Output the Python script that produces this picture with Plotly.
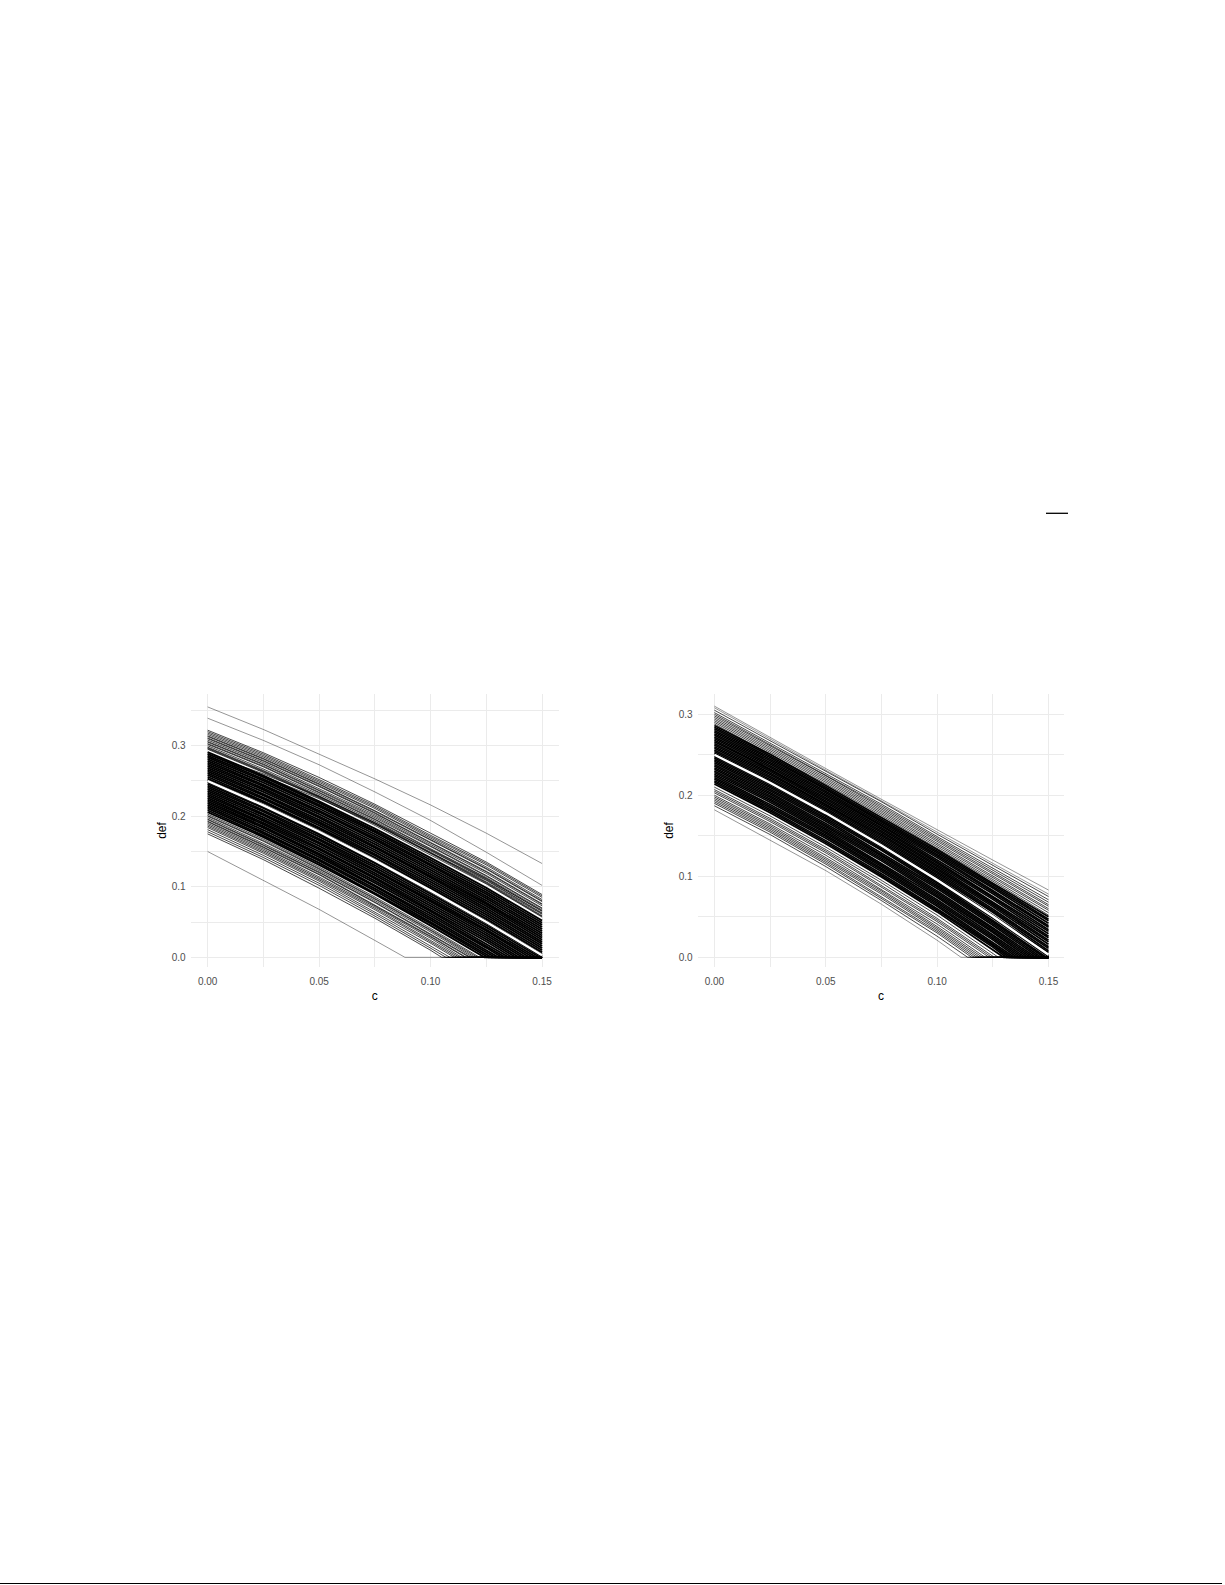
import plotly.graph_objects as go

c_knots = [0.0, 0.025, 0.05, 0.075, 0.10, 0.125, 0.15]
x_ticks = [0.0, 0.05, 0.10, 0.15]
x_labels = ["0.00", "0.05", "0.10", "0.15"]
x_minor = [0.025, 0.075, 0.125]
y_ticks = [0.0, 0.1, 0.2, 0.3]
y_labels = ["0.0", "0.1", "0.2", "0.3"]
left_y_minor = [0.05, 0.15, 0.25, 0.35]
right_y_minor = [0.05, 0.15, 0.25]

# left panel: isolated curves. short rows reach def = 0 at the c in *_zero
left_outer = [
    [.355, .323, .288, .253, .216, .176, .133],
    [.339, .3075, .273, .2345, .194, .149, .102],
    [.150, .1095, .068, .024],
]
left_outer_zero = [None, None, .0885]

left_upper = [
    [.322, .290, .255, .217, .176, .135, .089],
    [.320, .288, .252, .215, .173, .133, .087],
    [.318, .286, .250, .213, .171, .131, .085],
    [.316, .284, .248, .211, .169, .128, .082],
    [.314, .282, .246, .208, .167, .126, .080],
    [.313, .281, .245, .207, .166, .125, .079],
    [.311, .279, .243, .205, .163, .122, .076],
    [.310, .278, .242, .204, .162, .121, .075],
    [.308, .276, .239, .202, .160, .119, .073],
    [.306, .274, .237, .200, .158, .116, .070],
    [.305, .273, .236, .198, .157, .115, .069],
    [.303, .271, .234, .196, .154, .113, .067],
    [.302, .270, .233, .195, .153, .112, .065],
    [.300, .267, .231, .193, .151, .110, .063],
    [.298, .265, .229, .191, .149, .107, .061],
    [.297, .264, .228, .190, .148, .106, .059],
    [.296, .263, .227, .189, .147, .105, .058],
    [.295, .262, .226, .187, .145, .104, .057],
    [.288, .260, .228, .191, .152, .111, .066],
    [.284, .257, .225, .189, .148, .109, .062],
]

left_core = [
    [.291, .2575, .221, .1825, .141, .0985, .052],
    [.2885, .2555, .219, .1795, .138, .0955, .049],
    [.286, .2525, .216, .1775, .135, .0925, .046],
    [.2835, .2505, .214, .1745, .132, .0895, .043],
    [.281, .2475, .211, .1715, .130, .0865, .040],
    [.2785, .2445, .208, .1685, .127, .0835, .037],
    [.276, .2425, .206, .1665, .124, .0805, .034],
    [.2735, .2395, .203, .1635, .121, .0775, .031],
    [.271, .2375, .200, .1605, .118, .0755, .028],
    [.2685, .2345, .198, .1575, .115, .0725, .025],
    [.266, .2315, .195, .1555, .113, .0695, .022],
    [.2635, .2295, .192, .1525, .110, .0665, .019],
    [.261, .2265, .190, .1495, .107, .0635, .016],
    [.2585, .2245, .187, .1465, .104, .0605, .013],
    [.256, .2215, .184, .1445, .101, .0575, .010],
    [.2535, .2195, .182, .1415, .098, .0545, .007],
    [.251, .2165, .179, .1385, .096, .0515, .004],
    [.2485, .2135, .176, .1355, .093, .0485, .001],
    [.246, .2115, .174, .1335, .090, .0455],
    [.2435, .2085, .171, .1305, .087, .0425],
    [.241, .2065, .168, .1275, .084, .0395],
    [.2385, .2035, .166, .1245, .081, .0375],
    [.236, .2015, .163, .1225, .079, .0345],
    [.2335, .1985, .161, .1195, .076, .0315],
    [.231, .1955, .158, .1165, .073, .0285],
    [.2285, .1935, .155, .1135, .070, .0255],
    [.226, .1905, .153, .1115, .067, .0225],
    [.2235, .1885, .150, .1085, .065, .0195],
    [.221, .1855, .147, .1055, .062, .0165],
    [.2185, .1835, .145, .1025, .059, .0135],
    [.216, .1805, .142, .1005, .056, .0105],
    [.2135, .1775, .139, .0975, .053, .0075],
    [.211, .1755, .137, .0945, .050, .0045],
    [.2085, .1725, .134, .0915, .048, .0015],
    [.206, .1705, .131, .0895, .045],
]
left_core_zero = [None] * 18 + [
    .149, .1475, .146, .1444, .1428, .1413, .1397, .1382, .1366,
    .1351, .1335, .132, .1304, .1289, .1273, .1258, .1242,
]

left_lower = [
    [.203, .1675, .128, .0855, .041],
    [.201, .1655, .126, .0835, .039],
    [.200, .1645, .125, .0825, .038],
    [.198, .1615, .123, .0805, .036],
    [.196, .1595, .121, .0785, .033],
    [.195, .1585, .120, .0775, .032],
    [.193, .1565, .118, .0745, .030],
    [.192, .1555, .117, .0735, .029],
    [.190, .1535, .114, .0715, .027],
    [.188, .1515, .112, .0695, .024],
    [.186, .1495, .110, .0675, .022],
    [.184, .1475, .108, .0645, .020],
    [.181, .1445, .105, .0615, .016],
    [.178, .1415, .102, .0585, .013],
    [.175, .1385, .098, .0555, .010],
]
left_lower_zero = [.122, .1211, .120, .119, .118, .1174, .116, .1155, .114,
                   .113, .1118, .1106, .1087, .1069, .105]

left_mean = [.25, .2155, .178, .1375, .0945, .050, .003]

# right panel
right_outer = [
    [.310, .271, .233, .195, .157, .120, .083],
    [.308, .269, .231, .193, .154, .116, .078],
    [.182, .1445, .107, .0655, .021],
]
right_outer_zero = [None, None, .1107]

right_upper = [
    [.305, .267, .229, .192, .152, .114, .075],
    [.302, .264, .226, .189, .149, .110, .071],
    [.300, .262, .225, .187, .147, .108, .068],
    [.298, .261, .224, .185, .145, .105, .065],
    [.296, .259, .222, .183, .143, .103, .063],
    [.294, .257, .220, .181, .141, .101, .060],
    [.292, .255, .218, .179, .139, .099, .058],
    [.290, .253, .216, .177, .137, .096, .055],
    [.288, .251, .214, .175, .135, .094, .052],
]

right_core = [
    [.286, .2505, .212, .173, .133, .0915, .050],
    [.284, .2485, .210, .171, .131, .0895, .047],
    [.282, .2465, .208, .169, .129, .0875, .045],
    [.280, .2445, .207, .167, .127, .0855, .042],
    [.278, .2425, .205, .165, .125, .0825, .039],
    [.276, .2405, .203, .163, .123, .0805, .037],
    [.274, .2385, .201, .162, .120, .0785, .034],
    [.272, .2365, .199, .160, .118, .0755, .032],
    [.270, .2345, .197, .158, .116, .0735, .029],
    [.268, .2325, .195, .156, .114, .0715, .026],
    [.266, .2315, .193, .154, .112, .0685, .024],
    [.264, .2295, .191, .152, .110, .0665, .021],
    [.262, .2275, .189, .150, .108, .0645, .019],
    [.260, .2255, .188, .148, .106, .0625, .016],
    [.258, .2235, .186, .146, .104, .0595, .013],
    [.256, .2215, .184, .144, .102, .0575, .011],
    [.254, .2195, .182, .142, .100, .0555, .008],
    [.252, .2175, .180, .140, .098, .0525, .006],
    [.250, .2155, .178, .138, .0955, .0505, .003],
    [.248, .2135, .176, .136, .093, .0485, .001],
    [.246, .2115, .174, .134, .091, .0455],
    [.244, .2095, .172, .132, .089, .0435],
    [.242, .2075, .170, .129, .087, .0415],
    [.240, .2055, .168, .127, .085, .0395],
    [.238, .2035, .165, .125, .082, .0365],
    [.236, .2015, .163, .123, .080, .0345],
    [.234, .1995, .161, .121, .078, .0325],
    [.232, .1975, .159, .119, .076, .0305],
    [.230, .1955, .157, .116, .074, .0275],
    [.228, .1935, .155, .114, .071, .0255],
    [.226, .1915, .153, .112, .069, .0235],
    [.224, .1885, .151, .110, .067, .0215],
    [.222, .1865, .149, .108, .065, .0185],
    [.220, .1845, .147, .106, .063, .0165],
    [.218, .1825, .144, .103, .060, .0145],
    [.216, .1805, .142, .101, .058, .0125],
    [.214, .1785, .140, .099, .056, .0095],
]
right_core_zero = [None] * 20 + [
    .149, .148, .1467, .1455, .1443, .1431, .1419, .1407, .1395,
    .1383, .1371, .1359, .1347, .1335, .1323, .1311, .1299,
]

right_lower = [
    [.210, .1745, .136, .095, .052, .0055],
    [.207, .1715, .133, .092, .048, .0015],
    [.205, .1695, .131, .089, .046],
    [.203, .1675, .129, .087, .044],
    [.200, .1645, .126, .084, .041],
    [.198, .1625, .123, .082, .038],
    [.196, .1605, .121, .080, .036],
    [.194, .1585, .119, .078, .034],
    [.192, .1565, .117, .075, .032],
    [.190, .1545, .115, .073, .030],
    [.187, .1515, .112, .070, .026],
]
right_lower_zero = [.1275, .1257, .1245, .1233, .1215, .1203, .1191, .1179,
                    .1167, .1155, .1137]

right_mean = [.25, .2155, .178, .138, .0955, .0505, .003]

W, H = 1225, 1585
PANEL_TOP, PANEL_BOTTOM = 694, 967
GRID = "#ebebeb"
TICK_FONT = dict(family="Liberation Sans", size=10, color="#4d4d4d")
TITLE_FONT = dict(family="Liberation Sans", size=12, color="black")


def add_curves(fig, rows, zeros, width, color, xa, ya):
    for i, ys in enumerate(rows):
        xs = list(c_knots[:len(ys)])
        ys = list(ys)
        if zeros is not None and zeros[i] is not None:
            xs += [zeros[i], 0.15]
            ys += [0, 0]
        fig.add_trace(go.Scatter(x=xs, y=ys, mode="lines", xaxis=xa, yaxis=ya,
                                 line=dict(color=color, width=width),
                                 hoverinfo="skip", showlegend=False))


def add_panel(fig, xa, ya, outer, outer_zero, upper, core, core_zero, lower, lower_zero, mean, core_w):
    add_curves(fig, outer, outer_zero, 0.6, "rgba(0,0,0,0.7)", xa, ya)
    add_curves(fig, upper, None, 0.9, "rgba(0,0,0,0.8)", xa, ya)
    add_curves(fig, lower, lower_zero, 0.9, "rgba(0,0,0,0.8)", xa, ya)
    add_curves(fig, core, core_zero, core_w, "black", xa, ya)
    add_curves(fig, [mean], None, 2.4, "white", xa, ya)


fig = go.Figure()
add_panel(fig, "x", "y", left_outer, left_outer_zero, left_upper, left_core, left_core_zero,
          left_lower, left_lower_zero, left_mean, 1.9)
add_panel(fig, "x2", "y2", right_outer, right_outer_zero, right_upper, right_core, right_core_zero,
          right_lower, right_lower_zero, right_mean, 1.7)


def x_axis(left, right, rng):
    return dict(domain=[left / W, right / W], range=rng, tickvals=x_ticks, ticktext=x_labels,
                showgrid=True, gridcolor=GRID, gridwidth=1, zeroline=False, showline=False,
                ticks="outside", ticklen=5, tickcolor="rgba(0,0,0,0)", tickfont=TICK_FONT,
                minor=dict(tickvals=x_minor, showgrid=True, gridcolor=GRID, gridwidth=0.6, ticks=""),
                title=dict(text="c", font=TITLE_FONT, standoff=5))


def y_axis(rng, minor_vals, anchor):
    return dict(domain=[1 - PANEL_BOTTOM / H, 1 - PANEL_TOP / H], range=rng, anchor=anchor,
                tickvals=y_ticks, ticktext=y_labels,
                showgrid=True, gridcolor=GRID, gridwidth=1, zeroline=False, showline=False,
                ticks="outside", ticklen=2, tickcolor="rgba(0,0,0,0)", tickfont=TICK_FONT,
                minor=dict(tickvals=minor_vals, showgrid=True, gridcolor=GRID, gridwidth=0.6, ticks=""),
                title=dict(text="def", font=TITLE_FONT, standoff=2))


fig.update_layout(
    width=W, height=H, margin=dict(l=0, r=0, t=0, b=0),
    paper_bgcolor="white", plot_bgcolor="white",
    xaxis=x_axis(190.7, 559, [-0.0076, 0.1576]),
    yaxis=y_axis([-0.0137, 0.3733], left_y_minor, "x"),
    xaxis2=dict(x_axis(697.7, 1064.3, [-0.0075, 0.1571]), anchor="y2"),
    yaxis2=y_axis([-0.012, 0.325], right_y_minor, "x2"),
    shapes=[
        dict(type="line", xref="paper", yref="paper", x0=1046 / W, x1=1068 / W,
             y0=1 - 513.3 / H, y1=1 - 513.3 / H, line=dict(color="black", width=1.3)),
        dict(type="line", xref="paper", yref="paper", x0=0, x1=1222 / W,
             y0=1 - 1583.5 / H, y1=1 - 1583.5 / H, line=dict(color="black", width=1.2)),
    ],
)

# the default page has an 8px body margin, drop it so the figure sits at 0,0
fig.write_html("out.html", config={"displayModeBar": False},
               post_script="document.body.style.margin='0';")
